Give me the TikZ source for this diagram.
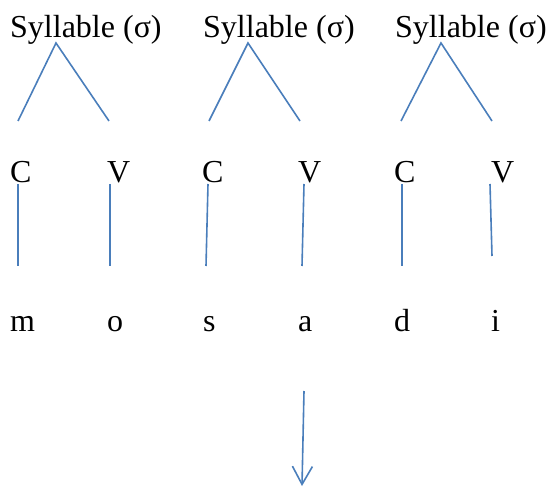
\documentclass[tikz,border=0pt]{standalone}
\usepackage{fontspec}
\setmainfont{Liberation Serif}
\usetikzlibrary{arrows.meta}
\definecolor{lineblue}{HTML}{4A7EBB}
\tikzset{
  lbl/.style={inner sep=0pt, anchor=base west, font=\fontsize{32}{38}\selectfont},
  branch/.style={draw=lineblue, line width=1.6pt},
  arr/.style={draw=lineblue, line width=1.6pt, -{Straight Barb[length=18pt,width=20pt,line width=1.6pt]}}
}
\begin{document}
\begin{tikzpicture}[x=1pt,y=-1pt]
\useasboundingbox (0,0) rectangle (549,489);
% syllable labels
\node[lbl] (s1) at (10,38) {Syllable (σ)};
\node[lbl] (s2) at (203,38) {Syllable (σ)};
\node[lbl] (s3) at (395,38) {Syllable (σ)};
% C / V labels
\node[lbl] (c1) at (10,183) {C};
\node[lbl] (v1) at (107,183) {V};
\node[lbl] (c2) at (202,183) {C};
\node[lbl] (v2) at (298,183) {V};
\node[lbl] (c3) at (394,183) {C};
\node[lbl] (v3) at (491,183) {V};
% segments
\node[lbl] (m) at (10,331) {m};
\node[lbl] (o) at (107,331) {o};
\node[lbl] (s) at (203,331) {s};
\node[lbl] (a) at (298,331) {a};
\node[lbl] (d) at (394,331) {d};
\node[lbl] (i) at (491,331) {i};
% tree coordinates
\coordinate (t1) at (56,43);  \coordinate (t1l) at (18,121);  \coordinate (t1r) at (109,121);
\coordinate (t2) at (248,43); \coordinate (t2l) at (209,121); \coordinate (t2r) at (300,121);
\coordinate (t3) at (441,43); \coordinate (t3l) at (401,121); \coordinate (t3r) at (492,121);
\draw[branch] (t1l) -- (t1) -- (t1r);
\draw[branch] (t2l) -- (t2) -- (t2r);
\draw[branch] (t3l) -- (t3) -- (t3r);
% association lines
\coordinate (a1t) at (18,184);  \coordinate (a1b) at (18,266);
\coordinate (a2t) at (110,184); \coordinate (a2b) at (110,266);
\coordinate (a3t) at (208,184); \coordinate (a3b) at (206,266);
\coordinate (a4t) at (304,184); \coordinate (a4b) at (302,266);
\coordinate (a5t) at (402,184); \coordinate (a5b) at (402,266);
\coordinate (a6t) at (490,184); \coordinate (a6b) at (492,256);
\draw[branch] (a1t) -- (a1b);
\draw[branch] (a2t) -- (a2b);
\draw[branch] (a3t) -- (a3b);
\draw[branch] (a4t) -- (a4b);
\draw[branch] (a5t) -- (a5b);
\draw[branch] (a6t) -- (a6b);
% arrow
\coordinate (ar1) at (304,391);
\coordinate (ar2) at (302,486);
\draw[arr] (ar1) -- (ar2);
\end{tikzpicture}
\end{document}
